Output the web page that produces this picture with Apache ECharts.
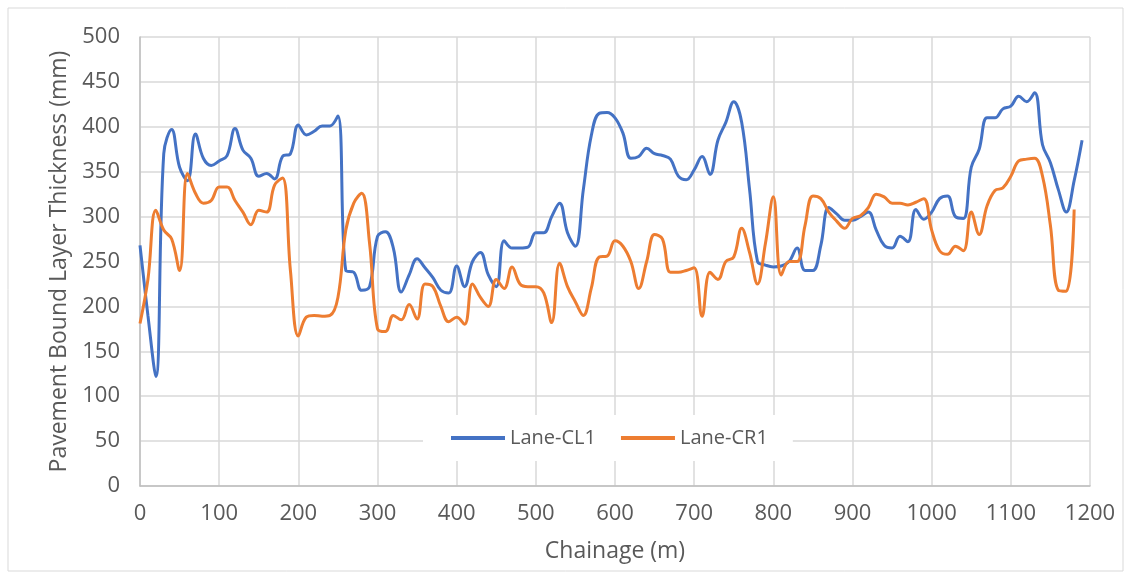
<!DOCTYPE html>
<html>
<head>
<meta charset="utf-8">
<title>Pavement Bound Layer Thickness</title>
<script src="https://cdn.jsdelivr.net/npm/echarts@6/dist/echarts.min.js"></script>
<style>
    html, body { margin: 0; padding: 0; background: #fff; }
    #chart { width: 1131px; height: 578px; }
</style>
</head>
<body>
<div id="chart"></div>
<script>
// Chainage (m) for each reading
const chainageCL1 = [
    0, 10, 20, 30, 40, 50, 60, 70, 80, 90,
    100, 110, 120, 130, 140, 150, 160, 170, 180, 190,
    200, 210, 220, 230, 240, 250, 260, 270, 280, 290,
    300, 310, 320, 330, 340, 350, 360, 370, 380, 390,
    400, 410, 420, 430, 440, 450, 460, 470, 480, 490,
    500, 510, 520, 530, 540, 550, 560, 570, 580, 590,
    600, 610, 620, 630, 640, 650, 660, 670, 680, 690,
    700, 710, 720, 730, 740, 750, 760, 770, 780, 790,
    800, 810, 820, 830, 840, 850, 860, 870, 880, 890,
    900, 910, 920, 930, 940, 950, 960, 970, 980, 990,
    1000, 1010, 1020, 1030, 1040, 1050, 1060, 1070, 1080, 1090,
    1100, 1110, 1120, 1130, 1140, 1150, 1160, 1170, 1180, 1190
];
const thicknessCL1 = [
    268, 190, 122, 370, 397, 355, 340, 392, 365, 357,
    362, 368, 398, 374, 365, 345, 348, 342, 367, 370,
    402, 391, 395, 401, 401, 412, 240, 238, 218, 222,
    278, 283, 265, 216, 235, 253, 243, 232, 218, 215,
    245, 222, 250, 260, 235, 222, 273, 265, 265, 266,
    282, 282, 300, 315, 282, 267, 330, 390, 415, 416,
    410, 393, 365, 367, 376, 370, 368, 364, 345, 341,
    352, 367, 347, 385, 405, 428, 405, 330, 250, 246,
    244, 245, 250, 265, 240, 240, 268, 310, 303, 296,
    296, 300, 305, 285, 268, 265, 278, 272, 308, 297,
    305, 320, 323, 300, 298, 355, 375, 410, 410, 420,
    423, 434, 428, 438, 380, 360, 330, 305, 340, 385
];

const chainageCR1 = [
    0, 10, 20, 30, 40, 50, 60, 70, 80, 90,
    100, 110, 120, 130, 140, 150, 160, 170, 180, 190,
    200, 210, 220, 230, 240, 250, 260, 270, 280, 290,
    300, 310, 320, 330, 340, 350, 360, 370, 380, 390,
    400, 410, 420, 430, 440, 450, 460, 470, 480, 490,
    500, 510, 520, 530, 540, 550, 560, 570, 580, 590,
    600, 610, 620, 630, 640, 650, 660, 670, 680, 690,
    700, 710, 720, 730, 740, 750, 760, 770, 780, 790,
    800, 810, 820, 830, 840, 850, 860, 870, 880, 890,
    900, 910, 920, 930, 940, 950, 960, 970, 980, 990,
    1000, 1010, 1020, 1030, 1040, 1050, 1060, 1070, 1080, 1090,
    1100, 1110, 1120, 1130, 1140, 1150, 1160, 1170, 1180
];
const thicknessCR1 = [
    181, 230, 307, 285, 275, 240, 348, 326, 315, 318,
    333, 333, 318, 305, 291, 307, 305, 335, 343, 240,
    167, 188, 190, 189, 190, 210, 285, 315, 326, 270,
    175, 172, 190, 185, 202, 186, 225, 222, 200, 183,
    188, 180, 225, 210, 200, 230, 220, 244, 225, 222,
    222, 215, 182, 248, 222, 205, 190, 220, 255, 256,
    273, 267, 250, 220, 250, 280, 275, 238, 238, 240,
    243, 189, 238, 230, 250, 255, 287, 260, 225, 270,
    322, 235, 250, 250, 290, 323, 320, 305, 295, 287,
    298, 301, 310, 325, 322, 315, 315, 313, 316, 320,
    285, 262, 258, 267, 262, 305, 280, 312, 329, 332,
    345, 362, 364, 365, 345, 290, 218, 217, 308
];

const seriesNames = ['Lane-CL1', 'Lane-CR1'];
const seriesColors = ['#4472C4', '#ED7D31'];

const textColor = '#595959';
const gridColor = '#d9d9d9';
const fontFamily = "'Open Sans', 'Noto Sans', sans-serif";

function toPairs(xs, ys) {
    return xs.map((x, i) => [x, ys[i]]);
}

const chart = echarts.init(document.getElementById('chart'));

const option = {
    animation: false,
    backgroundColor: '#fff',
    textStyle: { fontFamily: fontFamily },
    graphic: [{
        type: 'rect',
        shape: { x: 8, y: 8, width: 1115, height: 563 },
        style: { fill: 'none', stroke: gridColor, lineWidth: 1 },
        silent: true,
        z: -10
    }],
    grid: {
        left: 140,
        right: 41,
        top: 37,
        bottom: 92
    },
    legend: {
        left: 423,
        top: 415,
        padding: [13, 25, 13, 28],
        backgroundColor: '#fff',
        icon: 'rect',
        itemWidth: 54,
        itemHeight: 4,
        itemGap: 25,
        textStyle: { color: textColor, fontSize: 20, fontFamily: fontFamily },
        data: seriesNames
    },
    xAxis: {
        type: 'value',
        min: 0,
        max: 1200,
        interval: 100,
        name: 'Chainage (m)',
        nameLocation: 'middle',
        nameGap: 54,
        nameTextStyle: { color: textColor, fontSize: 23 },
        axisLine: { show: true, lineStyle: { color: '#bfbfbf', width: 1.5 } },
        axisTick: { show: false },
        axisLabel: {
            color: textColor,
            fontSize: 22,
            margin: 17,
            formatter: (v) => String(v)
        },
        splitLine: { show: true, lineStyle: { color: gridColor, width: 1.5 } }
    },
    yAxis: {
        type: 'value',
        min: 0,
        max: 500,
        interval: 50,
        name: 'Pavement Bound Layer Thickness (mm)',
        nameLocation: 'middle',
        nameGap: 68,
        nameTextStyle: { color: textColor, fontSize: 23 },
        axisLine: { show: true, lineStyle: { color: '#bfbfbf', width: 1.5 } },
        axisTick: { show: false },
        axisLabel: { color: textColor, fontSize: 22, margin: 20 },
        splitLine: { show: true, lineStyle: { color: gridColor, width: 1.5 } }
    },
    series: [
        {
            name: seriesNames[0],
            type: 'line',
            smooth: 0.4,
            symbol: 'none',
            data: toPairs(chainageCL1, thicknessCL1),
            itemStyle: { color: seriesColors[0] },
            lineStyle: { color: seriesColors[0], width: 3 },
            z: 2
        },
        {
            name: seriesNames[1],
            type: 'line',
            smooth: 0.4,
            symbol: 'none',
            data: toPairs(chainageCR1, thicknessCR1),
            itemStyle: { color: seriesColors[1] },
            lineStyle: { color: seriesColors[1], width: 3 },
            z: 3
        }
    ]
};

chart.setOption(option);

window.addEventListener('resize', () => {
    chart.resize();
});
</script>
</body>
</html>
